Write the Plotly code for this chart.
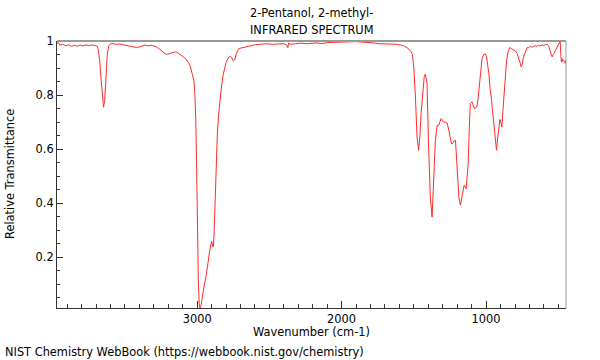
import plotly.graph_objects as go

title_line1 = "2-Pentanol, 2-methyl-"
title_line2 = "INFRARED SPECTRUM"
x_title = "Wavenumber (cm-1)"
y_title = "Relative Transmittance"
footer = "NIST Chemistry WebBook (https://webbook.nist.gov/chemistry)"

x_tickvals = [3000, 2000, 1000]
y_tickvals = [0.2, 0.4, 0.6, 0.8, 1.0]

wavenumber = [
    3970, 3960, 3950, 3930, 3910, 3890, 3870, 3850, 3830, 3810, 3790, 3770, 3750, 3730, 3710, 3695,
    3685, 3675, 3665, 3655, 3648, 3640, 3632, 3622, 3612, 3600, 3580, 3560, 3540, 3520, 3500, 3480,
    3460, 3440, 3420, 3400, 3380, 3360, 3340, 3320, 3300, 3280, 3260, 3240, 3220, 3205, 3190, 3170,
    3150, 3138, 3120, 3100, 3080, 3060, 3046, 3035, 3023, 3017, 3010, 3004, 2998, 2992, 2986, 2980,
    2974, 2965, 2957, 2949, 2940, 2931, 2922, 2913, 2905, 2900, 2893, 2888, 2882, 2875, 2869, 2860,
    2851, 2842, 2832, 2820, 2811, 2800, 2788, 2775, 2762, 2750, 2740, 2728, 2712, 2690, 2660, 2630,
    2600, 2562, 2520, 2480, 2440, 2400, 2380, 2373, 2366, 2355, 2320, 2280, 2240, 2200, 2170, 2140,
    2100, 2060, 2020, 1980, 1939, 1900, 1860, 1820, 1780, 1740, 1709, 1680, 1650, 1616, 1593, 1570,
    1547, 1524, 1510, 1500, 1489, 1478, 1467, 1458, 1450, 1436, 1428, 1420, 1413, 1409, 1398, 1386,
    1374, 1363, 1351, 1339, 1328, 1320, 1311, 1302, 1294, 1282, 1270, 1258, 1247, 1240, 1231, 1222,
    1212, 1204, 1197, 1188, 1178, 1170, 1164, 1158, 1152, 1145, 1138, 1131, 1124, 1116, 1109, 1097,
    1089, 1081, 1072, 1063, 1055, 1047, 1038, 1028, 1016, 1005, 997, 990, 981, 972, 964, 957,
    950, 940, 928, 920, 912, 905, 898, 891, 884, 877, 868, 858, 848, 836, 825, 815,
    808, 796, 785, 775, 765, 757, 750, 742, 734, 725, 716, 705, 693, 680, 670, 660,
    650, 640, 630, 623, 612, 600, 590, 577, 565, 555, 548, 543, 537, 531, 520, 508,
    498, 490, 487, 484, 479, 474, 470, 463, 458, 451, 447,
]

transmittance = [
    0.990, 0.995, 0.985, 0.988, 0.982, 0.986, 0.980, 0.984, 0.981, 0.985, 0.982, 0.986, 0.983, 0.985, 0.984, 0.982,
    0.970, 0.930, 0.860, 0.790, 0.755, 0.780, 0.870, 0.950, 0.982, 0.990, 0.990, 0.988, 0.989, 0.987, 0.985, 0.984,
    0.980, 0.978, 0.976, 0.978, 0.983, 0.985, 0.982, 0.984, 0.982, 0.978, 0.970, 0.960, 0.952, 0.951, 0.954, 0.958,
    0.960, 0.958, 0.950, 0.942, 0.935, 0.920, 0.904, 0.880, 0.855, 0.818, 0.720, 0.550, 0.280, 0.120, 0.030, 0.005,
    0.020, 0.054, 0.080, 0.103, 0.125, 0.152, 0.190, 0.226, 0.255, 0.260, 0.245, 0.238, 0.300, 0.420, 0.547, 0.660,
    0.730, 0.785, 0.830, 0.875, 0.898, 0.920, 0.935, 0.943, 0.940, 0.927, 0.930, 0.955, 0.972, 0.975, 0.980, 0.984,
    0.986, 0.988, 0.990, 0.988, 0.990, 0.990, 0.985, 0.975, 0.993, 0.988, 0.990, 0.992, 0.990, 0.993, 0.993, 0.990,
    0.994, 0.995, 0.996, 0.998, 0.999, 0.998, 0.996, 0.995, 0.993, 0.990, 0.990, 0.988, 0.990, 0.988, 0.985, 0.982,
    0.975, 0.965, 0.950, 0.900, 0.793, 0.645, 0.596, 0.650, 0.732, 0.843, 0.870, 0.877, 0.860, 0.843, 0.608, 0.423,
    0.349, 0.460, 0.633, 0.688, 0.688, 0.700, 0.713, 0.705, 0.700, 0.700, 0.697, 0.670, 0.627, 0.620, 0.621, 0.630,
    0.633, 0.560, 0.485, 0.420, 0.393, 0.420, 0.442, 0.460, 0.467, 0.460, 0.454, 0.500, 0.547, 0.680, 0.769, 0.775,
    0.760, 0.750, 0.752, 0.760, 0.790, 0.830, 0.890, 0.935, 0.951, 0.952, 0.941, 0.920, 0.880, 0.820, 0.793, 0.750,
    0.707, 0.650, 0.596, 0.640, 0.695, 0.710, 0.700, 0.682, 0.740, 0.793, 0.870, 0.929, 0.960, 0.976, 0.972, 0.968,
    0.966, 0.962, 0.953, 0.940, 0.920, 0.904, 0.915, 0.940, 0.953, 0.968, 0.976, 0.975, 0.980, 0.977, 0.980, 0.983,
    0.978, 0.985, 0.982, 0.984, 0.986, 0.983, 0.987, 0.988, 0.980, 0.960, 0.945, 0.941, 0.950, 0.953, 0.965, 0.976,
    0.985, 0.996, 1.000, 0.960, 0.922, 0.935, 0.925, 0.929, 0.920, 0.917, 0.930,
]

FONT = "DejaVu Sans"
FS = 11.4
W, H = 600, 360
L, R, T, B = 57, 34, 41, 52
pw, ph = W - L - R, H - T - B

def px_x(px):
    return (px - L) / pw

def px_y(py):
    return (H - B - py) / ph

fig = go.Figure()
fig.add_trace(go.Scatter(
    x=wavenumber, y=transmittance, mode="lines",
    line=dict(color="#ff2a2a", width=1), hoverinfo="skip", showlegend=False,
))

fig.update_layout(
    width=W, height=H,
    margin=dict(l=L, r=R, t=T, b=B, pad=0),
    paper_bgcolor="white", plot_bgcolor="white",
    font=dict(family=FONT, size=FS, color="black"),
    showlegend=False,
    xaxis=dict(
        range=[3970, 447], showgrid=False, zeroline=False,
        showline=True, linecolor="#333333", linewidth=1,
        ticks="inside", ticklen=7, tickcolor="#333333",
        tickvals=x_tickvals, ticktext=[str(v) for v in x_tickvals],
        tickfont=dict(family=FONT, size=FS),
        minor=dict(dtick=100, ticks="inside", ticklen=4, tickcolor="#333333", showgrid=False),
    ),
    yaxis=dict(
        range=[0.013, 1.0], showgrid=False, zeroline=False,
        showline=True, linecolor="#333333", linewidth=1,
        ticks="inside", ticklen=6, tickcolor="#333333",
        tickvals=y_tickvals, ticktext=["0.2", "0.4", "0.6", "0.8", "1"],
        tickfont=dict(family=FONT, size=FS),
        minor=dict(dtick=0.05, tick0=0, ticks="inside", ticklen=3, tickcolor="#333333", showgrid=False),
    ),
    shapes=[
        dict(type="line", xref="paper", yref="paper", x0=0, x1=1, y0=1, y1=1,
             line=dict(color="#999999", width=2)),
        dict(type="line", xref="paper", yref="paper", x0=1, x1=1, y0=0, y1=1,
             line=dict(color="#999999", width=1)),
    ],
    annotations=[
        dict(text=title_line1, xref="paper", yref="paper", x=0.5, y=px_y(13),
             xanchor="center", yanchor="middle", showarrow=False, font=dict(size=FS)),
        dict(text=title_line2, xref="paper", yref="paper", x=0.5, y=px_y(30),
             xanchor="center", yanchor="middle", showarrow=False, font=dict(size=FS)),
        dict(text=x_title, xref="paper", yref="paper", x=0.5, y=px_y(332),
             xanchor="center", yanchor="middle", showarrow=False, font=dict(size=FS)),
        dict(text=y_title, xref="paper", yref="paper", x=px_x(10), y=px_y(174),
             xanchor="center", yanchor="middle", showarrow=False, textangle=-90, font=dict(size=FS)),
        dict(text=footer, xref="paper", yref="paper", x=px_x(3), y=px_y(352),
             xanchor="left", yanchor="middle", showarrow=False, font=dict(size=FS)),
    ],
)

fig.write_html(
    "out.html",
    config={"displayModeBar": False},
    post_script="document.body.style.margin='0';document.body.style.padding='0';",
)
